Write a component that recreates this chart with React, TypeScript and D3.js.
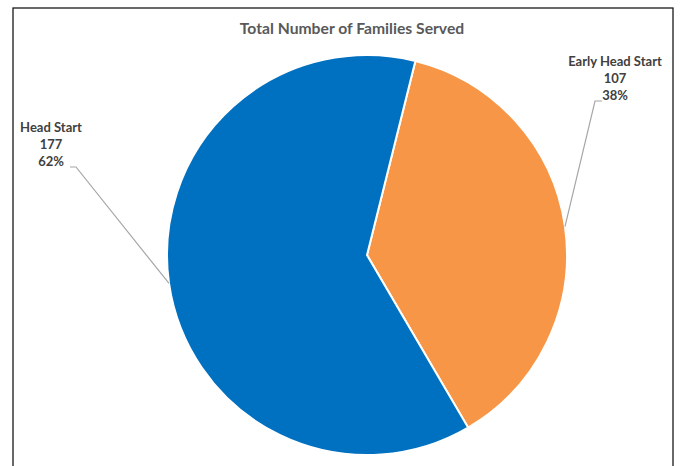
import React from "react";
import * as d3 from "d3";

const categories = ["Early Head Start", "Head Start"];
const values = [107, 177];
const percentLabels = ["38%", "62%"];
const colors = ["#F79646", "#0070C0"];
const title = "Total Number of Families Served";

const W = 681;
const H = 466;
const cx = 367;
const cy = 255;
const R = 200;
const START = (14 * Math.PI) / 180;

// label text anchors (layout)
const labelPos: Record<string, { x: number; y: number; side: "left" | "right" }> = {
  "Early Head Start": { x: 615, y: 66, side: "right" },
  "Head Start": { x: 51, y: 132, side: "left" },
};

export default function App() {
  const pie = d3
    .pie<number>()
    .sort(null)
    .startAngle(START)
    .endAngle(START + 2 * Math.PI)
    .value((d) => d);
  const arcs = pie(values);
  const arc = d3.arc<d3.PieArcDatum<number>>().innerRadius(0).outerRadius(R);
  const font = "Lato, 'Open Sans', sans-serif";

  return (
    <svg
      width={W}
      height={H}
      style={{ position: "absolute", left: 0, top: 0, background: "#fff" }}
    >
      <rect x={13} y={8} width={660} height={470} fill="#fff" stroke="#1a1a1a" strokeWidth={1.3} />
      <text
        x={352}
        y={34}
        textAnchor="middle"
        fontFamily={font}
        fontWeight={700}
        fontSize={15.7}
        fill="#595959"
      >
        {title}
      </text>
      <g transform={`translate(${cx},${cy})`}>
        {arcs.map((a, i) => (
          <path key={categories[i]} d={arc(a) || ""} fill={colors[i]} stroke="#fff" strokeWidth={2} />
        ))}
      </g>
      {arcs.map((a, i) => {
        const cat = categories[i];
        const pos = labelPos[cat];
        const mid = (a.startAngle + a.endAngle) / 2;
        const ex = cx + R * Math.sin(mid);
        const ey = cy - R * Math.cos(mid);
        const lineY = pos.y + 35;
        const lx0 = pos.side === "left" ? pos.x + 19 : pos.x - 13;
        const lx1 = pos.side === "left" ? lx0 + 6 : lx0 - 7;
        return (
          <g key={cat}>
            <polyline
              points={`${lx0},${lineY} ${lx1},${lineY} ${ex},${ey}`}
              fill="none"
              stroke="#a6a6a6"
              strokeWidth={1.2}
            />
            <text
              textAnchor="middle"
              fontFamily={font}
              fontWeight={700}
              fontSize={13}
              fill="#404040"
            >
              <tspan x={pos.x} y={pos.y}>{cat}</tspan>
              <tspan x={pos.x} y={pos.y + 17}>{values[i]}</tspan>
              <tspan x={pos.x} y={pos.y + 34}>{percentLabels[i]}</tspan>
            </text>
          </g>
        );
      })}
    </svg>
  );
}
